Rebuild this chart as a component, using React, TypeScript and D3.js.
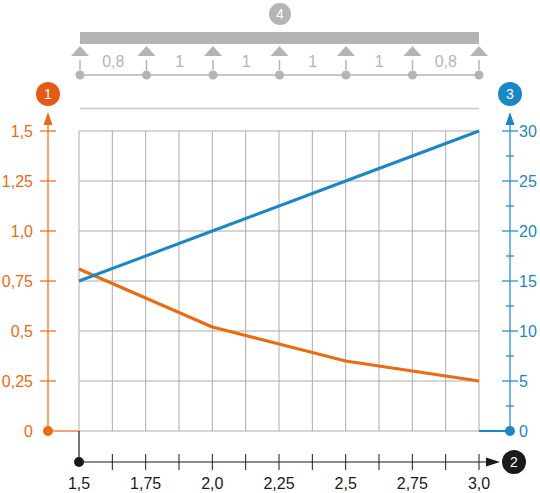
import React from "react";
import * as d3 from "d3";

// x-axis ticks (every 0.125), labels at every 0.25
const xTicks = [1.5, 1.625, 1.75, 1.875, 2.0, 2.125, 2.25, 2.375, 2.5, 2.625, 2.75, 2.875, 3.0];
const xLabels = ["1,5", "1,75", "2,0", "2,25", "2,5", "2,75", "3,0"];
const xLabelValues = [1.5, 1.75, 2.0, 2.25, 2.5, 2.75, 3.0];

const leftTicks = [0, 0.25, 0.5, 0.75, 1.0, 1.25, 1.5];
const leftLabels = ["0", "0,25", "0,5", "0,75", "1,0", "1,25", "1,5"];
const rightTicks = [0, 5, 10, 15, 20, 25, 30];
const rightMinor = [2.5, 7.5, 12.5, 17.5, 22.5, 27.5];

// series
const orangeX = [1.5, 1.75, 2.0, 2.25, 2.5, 2.75, 3.0];
const orangeY = [0.81, 0.665, 0.52, 0.435, 0.35, 0.3, 0.25];
const blueX = [1.5, 2.0, 2.5, 3.0];
const blueY = [15, 20, 25, 30];

// beam spans
const spans = ["0,8", "1", "1", "1", "1", "0,8"];

const ORANGE = "#ec6a12";
const ORANGE_DARK = "#e65a18";
const BLUE = "#1a87c6";
const GRAY = "#b4b4b4";
const GRID = "#acacac";
const FONT = "'Liberation Sans', Arial, sans-serif";

export default function App() {
  const width = 540;
  const height = 493;

  const x = d3.scaleLinear().domain([1.5, 3.0]).range([79, 479]);
  const yL = d3.scaleLinear().domain([0, 1.5]).range([431, 131]);
  const yR = d3.scaleLinear().domain([0, 30]).range([431, 131]);
  const sup = d3.scaleLinear().domain([0, spans.length]).range([80, 479]);

  const orangeLine = d3
    .line<number>()
    .x((d, i) => x(orangeX[i]))
    .y((d) => yL(d));
  const blueLine = d3
    .line<number>()
    .x((d, i) => x(blueX[i]))
    .y((d) => yR(d));

  const supports = d3.range(spans.length + 1);
  const leftX = 48;
  const rightX = 510;
  const axisY = 462;

  return (
    <svg
      width={width}
      height={height}
      style={{ position: "absolute", left: 0, top: 0, background: "#fff" }}
      fontFamily={FONT}
    >
      {/* top beam diagram */}
      <circle cx={280} cy={14} r={11} fill={GRAY} />
      <text x={280} y={19} textAnchor="middle" fill="#fff" fontSize={14}>
        4
      </text>
      <rect x={80} y={32} width={399} height={12} fill={GRAY} />
      <line x1={80} x2={479} y1={75} y2={75} stroke={GRAY} strokeWidth={1.5} />
      {supports.map((i) => (
        <g key={"s" + i} transform={`translate(${sup(i)},0)`}>
          <path d="M0,46 L9,56 L-9,56 Z" fill={GRAY} />
          <line x1={0} x2={0} y1={60} y2={70} stroke={GRAY} strokeWidth={1.5} />
          <circle cx={0} cy={75} r={4.5} fill={GRAY} />
        </g>
      ))}
      {spans.map((s, i) => (
        <text
          key={"sp" + i}
          x={(sup(i) + sup(i + 1)) / 2}
          y={67}
          textAnchor="middle"
          fill={GRAY}
          fontSize={16}
        >
          {s}
        </text>
      ))}
      <line x1={80} x2={479} y1={108.5} y2={108.5} stroke="#c8c8c8" strokeWidth={1.5} />

      {/* grid */}
      {xTicks.map((t) => (
        <line key={"gx" + t} x1={x(t)} x2={x(t)} y1={yL(1.5)} y2={yL(0)} stroke={GRID} strokeWidth={1} />
      ))}
      {leftTicks.map((t) => (
        <line key={"gy" + t} x1={x(1.5)} x2={x(3.0)} y1={yL(t)} y2={yL(t)} stroke={GRID} strokeWidth={1} />
      ))}

      {/* left axis */}
      <line x1={leftX} x2={leftX} y1={124} y2={yL(0)} stroke={ORANGE} strokeWidth={1.2} />
      <path d={`M${leftX},112 L${leftX + 4.5},125 L${leftX - 4.5},125 Z`} fill={ORANGE} />
      <circle cx={leftX} cy={94} r={12} fill={ORANGE_DARK} />
      <text x={leftX} y={99} textAnchor="middle" fill="#fff" fontSize={14}>
        1
      </text>
      {leftTicks.map((t, i) => (
        <g key={"lt" + t}>
          {t > 0 && (
            <line x1={leftX - 8} x2={leftX + 8} y1={yL(t)} y2={yL(t)} stroke={ORANGE} strokeWidth={1.2} />
          )}
          <text x={33} y={yL(t) + 5.5} textAnchor="end" fill={ORANGE} fontSize={16}>
            {leftLabels[i]}
          </text>
        </g>
      ))}
      <line x1={leftX} x2={x(1.5)} y1={yL(0)} y2={yL(0)} stroke={ORANGE} strokeWidth={1.2} />
      <circle cx={leftX} cy={yL(0)} r={5} fill={ORANGE} />

      {/* right axis */}
      <line x1={rightX} x2={rightX} y1={124} y2={yR(0)} stroke={BLUE} strokeWidth={1.2} />
      <path d={`M${rightX},112 L${rightX + 4.5},125 L${rightX - 4.5},125 Z`} fill={BLUE} />
      <circle cx={rightX} cy={94} r={12} fill={BLUE} />
      <text x={rightX} y={99} textAnchor="middle" fill="#fff" fontSize={14}>
        3
      </text>
      {rightTicks.map((t) => (
        <g key={"rt" + t}>
          {t > 0 && (
            <line x1={rightX - 8} x2={rightX + 8} y1={yR(t)} y2={yR(t)} stroke={BLUE} strokeWidth={1.2} />
          )}
          <text x={519} y={yR(t) + 5.5} textAnchor="start" fill={BLUE} fontSize={16}>
            {t}
          </text>
        </g>
      ))}
      {rightMinor.map((t) => (
        <line key={"rm" + t} x1={rightX - 4} x2={rightX + 4} y1={yR(t)} y2={yR(t)} stroke={BLUE} strokeWidth={1.2} />
      ))}
      <line x1={x(3.0)} x2={rightX} y1={yR(0)} y2={yR(0)} stroke={BLUE} strokeWidth={2} />
      <circle cx={rightX} cy={yR(0)} r={5} fill={BLUE} />

      {/* series */}
      <path d={orangeLine(orangeY) || ""} fill="none" stroke={ORANGE} strokeWidth={3} strokeLinejoin="round" />
      <path d={blueLine(blueY) || ""} fill="none" stroke={BLUE} strokeWidth={3} strokeLinejoin="round" />

      {/* bottom axis */}
      <line x1={x(1.5)} x2={x(1.5)} y1={yL(0)} y2={axisY} stroke="#1a1a1a" strokeWidth={1.2} />
      <line x1={x(1.5)} x2={488} y1={axisY} y2={axisY} stroke="#1a1a1a" strokeWidth={1.2} />
      <path d={`M500,${axisY} L486,${axisY - 4.5} L486,${axisY + 4.5} Z`} fill="#1a1a1a" />
      <circle cx={x(1.5)} cy={axisY} r={5} fill="#1a1a1a" />
      {xTicks.slice(1).map((t) => (
        <line key={"bt" + t} x1={x(t)} x2={x(t)} y1={axisY - 8} y2={axisY + 8} stroke="#1a1a1a" strokeWidth={1} />
      ))}
      {xLabelValues.map((t, i) => (
        <text key={"bl" + t} x={x(t)} y={489} textAnchor="middle" fill="#1a1a1a" fontSize={16}>
          {xLabels[i]}
        </text>
      ))}
      <circle cx={514} cy={axisY} r={12} fill="#1a1a1a" />
      <text x={514} y={axisY + 5} textAnchor="middle" fill="#fff" fontSize={14}>
        2
      </text>
    </svg>
  );
}
